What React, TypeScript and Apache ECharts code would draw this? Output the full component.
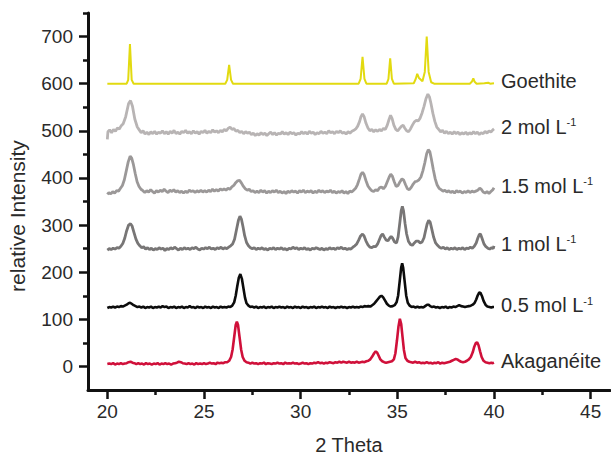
import React, { useEffect, useRef } from "react";
import * as echarts from "echarts";

const FONT = "'Liberation Sans', Arial, Helvetica, sans-serif";

// Tick positions
const xMajorTicks = [20, 25, 30, 35, 40, 45];
const xMinorTicks = [22.5, 27.5, 32.5, 37.5, 42.5];
const yMajorTicks = [0, 100, 200, 300, 400, 500, 600, 700];
const yMinorTicks = [50, 150, 250, 350, 450, 550, 650, 750];

// Series labels
const seriesNames = ["Goethite", "2 mol L", "1.5 mol L", "1 mol L", "0.5 mol L", "Akaganéite"];
const seriesSup = ["", "-1", "-1", "-1", "-1", ""];
const seriesColors = ["#e2da10", "#b8b4b4", "#9b9898", "#787676", "#0c0c0c", "#d0103a"];

// [2θ, intensity]
const goethite = [
  [20, 600], [21.0, 600], [21.08, 608], [21.17, 684], [21.26, 608], [21.36, 600],
  [26.1, 600], [26.2, 608], [26.3, 640], [26.4, 608], [26.5, 600],
  [33.0, 600], [33.1, 610], [33.2, 657], [33.3, 610], [33.4, 600],
  [34.45, 600], [34.54, 610], [34.63, 654], [34.72, 610], [34.82, 600],
  [35.85, 601], [35.95, 610], [36.03, 621], [36.12, 612], [36.3, 605],
  [36.42, 625], [36.52, 700], [36.62, 625], [36.75, 603], [36.9, 600],
  [38.75, 600], [38.85, 604], [38.93, 611], [39.0, 604], [39.1, 600],
  [39.5, 601], [39.7, 602], [39.8, 600], [40, 601],
];

const mol2 = [
  [20.0, 482], [20.03, 498], [20.12, 502], [20.22, 496], [20.32, 503], [20.42, 499], [20.52, 506],
  [20.62, 504], [20.72, 511], [20.82, 515], [20.95, 530], [21.1, 558], [21.2, 564], [21.3, 552],
  [21.42, 525], [21.55, 508], [21.65, 502], [21.75, 496], [21.85, 500], [21.95, 493], [22.05, 497],
  [22.15, 492], [22.25, 498], [22.35, 494], [22.45, 499], [22.55, 493], [22.65, 497], [22.75, 495],
  [22.85, 500], [22.95, 494], [23.05, 498], [23.15, 493], [23.25, 499], [23.35, 495], [23.45, 501],
  [23.55, 494], [23.65, 497], [23.75, 493], [23.85, 499], [23.95, 496], [24.05, 501], [24.15, 495],
  [24.25, 498], [24.35, 494], [24.45, 500], [24.55, 495], [24.65, 498], [24.75, 493], [24.85, 499],
  [24.95, 496], [25.05, 501], [25.15, 495], [25.25, 499], [25.35, 496], [25.45, 502], [25.55, 497],
  [25.65, 500], [25.75, 496], [25.85, 501], [25.95, 498], [26.05, 503], [26.15, 500], [26.25, 505],
  [26.35, 508], [26.45, 503], [26.55, 505], [26.65, 499], [26.75, 501], [26.85, 496], [26.95, 499],
  [27.05, 494], [27.15, 498], [27.25, 495], [27.35, 497], [27.45, 492], [27.55, 495], [27.65, 490],
  [27.75, 494], [27.85, 491], [27.95, 496], [28.05, 492], [28.15, 495], [28.25, 490], [28.35, 494],
  [28.45, 497], [28.55, 492], [28.65, 496], [28.75, 491], [28.85, 495], [28.95, 493], [29.05, 498],
  [29.15, 493], [29.25, 496], [29.35, 492], [29.45, 497], [29.55, 494], [29.65, 496], [29.75, 491],
  [29.85, 495], [29.95, 493], [30.05, 498], [30.15, 494], [30.25, 497], [30.35, 493], [30.45, 499],
  [30.55, 495], [30.65, 497], [30.75, 492], [30.85, 496], [30.95, 494], [31.05, 499], [31.15, 495],
  [31.25, 497], [31.35, 494], [31.45, 500], [31.55, 496], [31.65, 498], [31.75, 494], [31.85, 499],
  [31.95, 496], [32.05, 500], [32.15, 495], [32.25, 497], [32.35, 493], [32.45, 498], [32.55, 495],
  [32.65, 499], [32.75, 501], [32.85, 504], [32.95, 510], [33.05, 520], [33.12, 530], [33.2, 536],
  [33.28, 530], [33.38, 516], [33.48, 506], [33.58, 500], [33.68, 503], [33.78, 498], [33.88, 502],
  [33.98, 499], [34.08, 503], [34.18, 500], [34.28, 505], [34.38, 503], [34.48, 512], [34.57, 524],
  [34.65, 533], [34.73, 526], [34.82, 512], [34.92, 503], [35.02, 500], [35.12, 505], [35.22, 510],
  [35.3, 512], [35.38, 506], [35.48, 500], [35.58, 498], [35.68, 504], [35.78, 512], [35.88, 519],
  [35.98, 522], [36.08, 521], [36.18, 527], [36.28, 538], [36.38, 552], [36.48, 568], [36.58, 578],
  [36.66, 572], [36.74, 558], [36.84, 537], [36.94, 520], [37.04, 508], [37.14, 503], [37.24, 498],
  [37.34, 501], [37.44, 495], [37.54, 499], [37.64, 494], [37.74, 497], [37.84, 493], [37.94, 498],
  [38.04, 494], [38.14, 497], [38.24, 492], [38.34, 496], [38.44, 493], [38.54, 497], [38.64, 492],
  [38.74, 496], [38.84, 493], [38.94, 498], [39.04, 494], [39.14, 497], [39.24, 492], [39.34, 496],
  [39.44, 494], [39.54, 499], [39.64, 495], [39.74, 500], [39.84, 497], [39.94, 502], [40.0, 504],
];

const mol15 = [
  [20.0, 365], [20.08, 369], [20.18, 366], [20.28, 371], [20.38, 368], [20.48, 373], [20.58, 372],
  [20.68, 378], [20.78, 384], [20.88, 396], [20.98, 415], [21.08, 434], [21.18, 446], [21.26, 442],
  [21.34, 430], [21.44, 410], [21.54, 392], [21.64, 382], [21.74, 376], [21.84, 373], [21.94, 369],
  [22.04, 373], [22.14, 370], [22.24, 375], [22.34, 371], [22.44, 368], [22.54, 373], [22.64, 370],
  [22.74, 374], [22.84, 371], [22.94, 376], [23.04, 372], [23.14, 369], [23.24, 374], [23.34, 371],
  [23.44, 375], [23.54, 370], [23.64, 373], [23.74, 369], [23.84, 372], [23.94, 368], [24.04, 372],
  [24.14, 369], [24.24, 374], [24.34, 371], [24.44, 373], [24.54, 369], [24.64, 373], [24.74, 370],
  [24.84, 374], [24.94, 370], [25.04, 373], [25.14, 370], [25.24, 374], [25.34, 371], [25.44, 376],
  [25.54, 372], [25.64, 375], [25.74, 372], [25.84, 377], [25.94, 374], [26.04, 377], [26.14, 374],
  [26.24, 378], [26.34, 376], [26.44, 381], [26.54, 384], [26.64, 390], [26.74, 394], [26.84, 395],
  [26.94, 389], [27.04, 382], [27.14, 377], [27.24, 374], [27.34, 376], [27.44, 371], [27.54, 373],
  [27.64, 369], [27.74, 372], [27.84, 369], [27.94, 374], [28.04, 370], [28.14, 373], [28.24, 368],
  [28.34, 372], [28.44, 369], [28.54, 373], [28.64, 370], [28.74, 374], [28.84, 369], [28.94, 372],
  [29.04, 368], [29.14, 371], [29.24, 367], [29.34, 372], [29.44, 369], [29.54, 373], [29.64, 370],
  [29.74, 372], [29.84, 368], [29.94, 373], [30.04, 370], [30.14, 374], [30.24, 369], [30.34, 372],
  [30.44, 370], [30.54, 373], [30.64, 368], [30.74, 372], [30.84, 369], [30.94, 374], [31.04, 370],
  [31.14, 373], [31.24, 369], [31.34, 372], [31.44, 370], [31.54, 374], [31.64, 369], [31.74, 372],
  [31.84, 368], [31.94, 371], [32.04, 369], [32.14, 373], [32.24, 368], [32.34, 371], [32.44, 367],
  [32.54, 372], [32.64, 370], [32.74, 374], [32.84, 378], [32.94, 386], [33.04, 398], [33.12, 408],
  [33.2, 412], [33.28, 407], [33.38, 394], [33.48, 383], [33.58, 377], [33.68, 373], [33.78, 371],
  [33.88, 375], [33.98, 373], [34.08, 379], [34.18, 381], [34.28, 377], [34.38, 382], [34.48, 392],
  [34.58, 402], [34.66, 408], [34.74, 404], [34.84, 392], [34.94, 382], [35.04, 384], [35.14, 392],
  [35.24, 398], [35.32, 396], [35.42, 386], [35.52, 377], [35.62, 375], [35.72, 380], [35.82, 387],
  [35.92, 392], [36.02, 393], [36.12, 396], [36.22, 402], [36.32, 415], [36.42, 432], [36.52, 452],
  [36.6, 460], [36.68, 456], [36.76, 440], [36.86, 418], [36.96, 398], [37.06, 385], [37.16, 378],
  [37.26, 375], [37.36, 372], [37.46, 374], [37.56, 370], [37.66, 373], [37.76, 369], [37.86, 372],
  [37.96, 368], [38.06, 373], [38.16, 370], [38.26, 372], [38.36, 368], [38.46, 371], [38.56, 369],
  [38.66, 373], [38.76, 369], [38.86, 372], [38.96, 370], [39.06, 372], [39.16, 374], [39.26, 378],
  [39.34, 376], [39.44, 370], [39.54, 368], [39.64, 371], [39.74, 367], [39.84, 371], [39.94, 375],
  [40.0, 379],
];

const mol1 = [
  [20.0, 247], [20.1, 250], [20.2, 248], [20.3, 251], [20.4, 249], [20.5, 252], [20.6, 251],
  [20.7, 255], [20.8, 261], [20.9, 272], [21.0, 288], [21.1, 300], [21.2, 303], [21.28, 298],
  [21.38, 284], [21.48, 270], [21.58, 261], [21.68, 256], [21.78, 252], [21.88, 254], [21.98, 249],
  [22.08, 252], [22.18, 248], [22.28, 251], [22.38, 247], [22.48, 250], [22.58, 248], [22.68, 252],
  [22.78, 249], [22.88, 251], [22.98, 246], [23.08, 250], [23.18, 248], [23.28, 252], [23.38, 249],
  [23.48, 253], [23.58, 250], [23.68, 247], [23.78, 251], [23.88, 248], [23.98, 252], [24.08, 249],
  [24.18, 251], [24.28, 248], [24.38, 252], [24.48, 250], [24.58, 253], [24.68, 249], [24.78, 247],
  [24.88, 251], [24.98, 249], [25.08, 252], [25.18, 250], [25.28, 253], [25.38, 249], [25.48, 251],
  [25.58, 248], [25.68, 252], [25.78, 250], [25.88, 253], [25.98, 249], [26.08, 252], [26.18, 250],
  [26.28, 253], [26.38, 256], [26.48, 260], [26.58, 270], [26.68, 290], [26.78, 310], [26.86, 319],
  [26.94, 312], [27.02, 296], [27.1, 278], [27.2, 263], [27.3, 256], [27.4, 252], [27.5, 250],
  [27.6, 252], [27.7, 248], [27.8, 251], [27.9, 249], [28.0, 252], [28.1, 248], [28.2, 250],
  [28.3, 247], [28.4, 251], [28.5, 249], [28.6, 252], [28.7, 248], [28.8, 251], [28.9, 249],
  [29.0, 252], [29.1, 248], [29.2, 250], [29.3, 247], [29.4, 251], [29.5, 249], [29.6, 253],
  [29.7, 250], [29.8, 252], [29.9, 248], [30.0, 251], [30.1, 249], [30.2, 252], [30.3, 248],
  [30.4, 250], [30.5, 247], [30.6, 251], [30.7, 249], [30.8, 252], [30.9, 250], [31.0, 248],
  [31.1, 251], [31.2, 247], [31.3, 250], [31.4, 248], [31.5, 252], [31.6, 249], [31.7, 251],
  [31.8, 248], [31.9, 252], [32.0, 250], [32.1, 253], [32.2, 249], [32.3, 251], [32.4, 248],
  [32.5, 250], [32.6, 249], [32.7, 253], [32.8, 256], [32.9, 260], [33.0, 268], [33.1, 277],
  [33.2, 281], [33.28, 277], [33.38, 266], [33.48, 258], [33.58, 253], [33.68, 252], [33.78, 255],
  [33.88, 254], [33.98, 260], [34.08, 270], [34.16, 278], [34.24, 281], [34.32, 275], [34.42, 268],
  [34.52, 267], [34.6, 272], [34.68, 276], [34.76, 272], [34.86, 264], [34.96, 262], [35.04, 275],
  [35.12, 302], [35.2, 330], [35.26, 340], [35.32, 330], [35.4, 303], [35.48, 281], [35.58, 265],
  [35.68, 259], [35.78, 257], [35.88, 262], [35.98, 266], [36.08, 266], [36.18, 262], [36.28, 264],
  [36.38, 273], [36.46, 288], [36.54, 302], [36.62, 310], [36.7, 306], [36.78, 292], [36.88, 274],
  [36.98, 262], [37.08, 257], [37.18, 253], [37.28, 251], [37.38, 253], [37.48, 249], [37.58, 252],
  [37.68, 248], [37.78, 251], [37.88, 249], [37.98, 252], [38.08, 248], [38.18, 251], [38.28, 249],
  [38.38, 252], [38.48, 248], [38.58, 251], [38.68, 250], [38.78, 253], [38.88, 251], [38.98, 255],
  [39.08, 262], [39.16, 272], [39.24, 280], [39.3, 281], [39.38, 272], [39.48, 260], [39.58, 254],
  [39.68, 251], [39.78, 249], [39.88, 252], [39.96, 250], [40.0, 256],
];

const mol05 = [
  [20.0, 124], [20.1, 126], [20.2, 125], [20.3, 127], [20.4, 125], [20.5, 127], [20.6, 126],
  [20.7, 128], [20.8, 127], [20.9, 129], [21.0, 131], [21.1, 134], [21.18, 135], [21.26, 133],
  [21.36, 130], [21.46, 128], [21.56, 126], [21.66, 127], [21.76, 125], [21.86, 127], [21.96, 124],
  [22.06, 126], [22.16, 125], [22.26, 127], [22.36, 124], [22.46, 126], [22.56, 125], [22.66, 127],
  [22.76, 125], [22.86, 128], [22.96, 126], [23.06, 127], [23.16, 124], [23.26, 126], [23.36, 125],
  [23.46, 127], [23.56, 124], [23.66, 126], [23.76, 125], [23.86, 127], [23.96, 124], [24.06, 126],
  [24.16, 125], [24.26, 128], [24.36, 125], [24.46, 126], [24.56, 124], [24.66, 127], [24.76, 125],
  [24.86, 126], [24.96, 124], [25.06, 127], [25.16, 125], [25.26, 126], [25.36, 124], [25.46, 127],
  [25.56, 125], [25.66, 126], [25.76, 124], [25.86, 127], [25.96, 125], [26.06, 126], [26.16, 125],
  [26.26, 127], [26.36, 126], [26.46, 129], [26.56, 136], [26.64, 150], [26.72, 170], [26.8, 188],
  [26.88, 196], [26.96, 186], [27.04, 166], [27.12, 146], [27.2, 134], [27.3, 129], [27.4, 126],
  [27.5, 127], [27.6, 125], [27.7, 127], [27.8, 124], [27.9, 126], [28.0, 125], [28.1, 127],
  [28.2, 124], [28.3, 126], [28.4, 125], [28.5, 127], [28.6, 124], [28.7, 126], [28.8, 125],
  [28.9, 127], [29.0, 125], [29.1, 126], [29.2, 124], [29.3, 127], [29.4, 125], [29.5, 126],
  [29.6, 124], [29.7, 127], [29.8, 125], [29.9, 126], [30.0, 124], [30.1, 127], [30.2, 125],
  [30.3, 126], [30.4, 124], [30.5, 126], [30.6, 125], [30.7, 127], [30.8, 124], [30.9, 126],
  [31.0, 125], [31.1, 127], [31.2, 125], [31.3, 126], [31.4, 124], [31.5, 127], [31.6, 125],
  [31.7, 126], [31.8, 124], [31.9, 126], [32.0, 125], [32.1, 127], [32.2, 125], [32.3, 126],
  [32.4, 124], [32.5, 126], [32.6, 125], [32.7, 127], [32.8, 125], [32.9, 126], [33.0, 125],
  [33.1, 127], [33.2, 126], [33.3, 128], [33.4, 127], [33.5, 128], [33.6, 127], [33.7, 130],
  [33.8, 133], [33.9, 138], [34.0, 143], [34.1, 148], [34.18, 150], [34.26, 147], [34.36, 140],
  [34.46, 133], [34.56, 129], [34.66, 127], [34.76, 128], [34.86, 130], [34.96, 136], [35.04, 150],
  [35.12, 180], [35.2, 210], [35.25, 219], [35.3, 210], [35.38, 180], [35.46, 150], [35.54, 135],
  [35.64, 129], [35.74, 126], [35.84, 127], [35.94, 125], [36.04, 127], [36.14, 125], [36.24, 126],
  [36.34, 125], [36.44, 128], [36.54, 131], [36.62, 131], [36.7, 128], [36.8, 126], [36.9, 127],
  [37.0, 125], [37.1, 126], [37.2, 124], [37.3, 126], [37.4, 125], [37.5, 127], [37.6, 124],
  [37.7, 126], [37.8, 125], [37.9, 127], [38.0, 126], [38.1, 128], [38.2, 130], [38.3, 128],
  [38.4, 127], [38.5, 126], [38.6, 127], [38.7, 128], [38.8, 129], [38.9, 131], [39.0, 135],
  [39.08, 142], [39.16, 151], [39.24, 157], [39.3, 156], [39.38, 149], [39.46, 139], [39.56, 131],
  [39.66, 127], [39.76, 126], [39.86, 125], [39.94, 126], [40.0, 126],
];

const akaganeite = [
  [20.0, 5], [20.1, 6], [20.2, 5], [20.3, 7], [20.4, 4], [20.5, 6], [20.6, 5], [20.7, 7],
  [20.8, 5], [20.9, 6], [21.0, 7], [21.1, 9], [21.2, 10], [21.3, 8], [21.4, 7], [21.5, 5],
  [21.6, 7], [21.7, 5], [21.8, 6], [21.9, 4], [22.0, 7], [22.1, 5], [22.2, 6], [22.3, 4],
  [22.4, 6], [22.5, 5], [22.6, 7], [22.7, 4], [22.8, 6], [22.9, 5], [23.0, 7], [23.1, 5],
  [23.2, 6], [23.3, 4], [23.4, 6], [23.5, 7], [23.6, 8], [23.7, 10], [23.8, 9], [23.9, 7],
  [24.0, 6], [24.1, 5], [24.2, 7], [24.3, 5], [24.4, 6], [24.5, 4], [24.6, 7], [24.7, 5],
  [24.8, 6], [24.9, 5], [25.0, 7], [25.1, 5], [25.2, 6], [25.3, 8], [25.4, 6], [25.5, 7],
  [25.6, 5], [25.7, 8], [25.8, 7], [25.9, 8], [26.0, 7], [26.1, 9], [26.2, 9], [26.3, 12],
  [26.4, 20], [26.48, 36], [26.56, 62], [26.64, 88], [26.7, 95], [26.76, 88], [26.84, 62],
  [26.92, 36], [27.0, 20], [27.1, 12], [27.2, 9], [27.3, 8], [27.4, 6], [27.5, 8], [27.6, 6],
  [27.7, 7], [27.8, 5], [27.9, 7], [28.0, 6], [28.1, 8], [28.2, 5], [28.3, 7], [28.4, 6],
  [28.5, 5], [28.6, 7], [28.7, 6], [28.8, 8], [28.9, 6], [29.0, 7], [29.1, 5], [29.2, 8],
  [29.3, 6], [29.4, 7], [29.5, 6], [29.6, 8], [29.7, 6], [29.8, 7], [29.9, 5], [30.0, 6],
  [30.1, 8], [30.2, 6], [30.3, 7], [30.4, 5], [30.5, 7], [30.6, 6], [30.7, 8], [30.8, 7],
  [30.9, 9], [31.0, 7], [31.1, 8], [31.2, 6], [31.3, 8], [31.4, 7], [31.5, 9], [31.6, 8],
  [31.7, 7], [31.8, 9], [31.9, 8], [32.0, 10], [32.1, 8], [32.2, 10], [32.3, 9], [32.4, 8],
  [32.5, 10], [32.6, 8], [32.7, 9], [32.8, 8], [32.9, 10], [33.0, 8], [33.1, 9], [33.2, 10],
  [33.3, 9], [33.4, 11], [33.5, 12], [33.6, 15], [33.7, 21], [33.8, 28], [33.88, 32], [33.96, 29],
  [34.04, 22], [34.12, 15], [34.22, 11], [34.32, 9], [34.42, 8], [34.52, 9], [34.62, 10],
  [34.72, 11], [34.82, 15], [34.9, 28], [34.98, 55], [35.06, 85], [35.13, 101], [35.2, 90],
  [35.27, 62], [35.34, 35], [35.42, 18], [35.52, 12], [35.62, 10], [35.72, 9], [35.82, 8],
  [35.92, 10], [36.02, 8], [36.12, 9], [36.22, 7], [36.32, 8], [36.42, 7], [36.52, 9], [36.62, 7],
  [36.72, 8], [36.82, 6], [36.92, 8], [37.02, 7], [37.12, 9], [37.22, 6], [37.32, 8], [37.42, 7],
  [37.52, 8], [37.62, 9], [37.72, 10], [37.82, 12], [37.92, 14], [38.02, 16], [38.1, 15],
  [38.2, 12], [38.3, 10], [38.4, 9], [38.5, 10], [38.6, 12], [38.7, 15], [38.8, 20], [38.9, 30],
  [38.98, 42], [39.06, 50], [39.13, 51], [39.2, 45], [39.28, 32], [39.36, 20], [39.46, 12],
  [39.56, 9], [39.66, 8], [39.76, 7], [39.86, 8], [39.94, 7], [40.0, 8],
];

const seriesData = [goethite, mol2, mol15, mol1, mol05, akaganeite];
const seriesWidths = [2, 2.8, 2.8, 2.8, 2.6, 2.6];

export default function App() {
  const ref = useRef<HTMLDivElement>(null);

  useEffect(() => {
    if (!ref.current) return;
    const chart = echarts.init(ref.current, undefined, { renderer: "svg" });
    const axisColor = "#111";
    const labelColor = "#2a2a2a";

    const series = seriesData.map((data, i) => ({
      type: "line",
      name: seriesNames[i],
      data,
      xAxisIndex: 0,
      yAxisIndex: 0,
      showSymbol: false,
      symbol: "none",
      smooth: false,
      lineStyle: { color: seriesColors[i], width: seriesWidths[i] },
      itemStyle: { color: seriesColors[i] },
      endLabel: {
        show: true,
        distance: 7,
        offset: [0, -2],
        formatter: () =>
          seriesSup[i] ? `{a|${seriesNames[i]}}{s|${seriesSup[i]}}` : `{a|${seriesNames[i]}}`,
        rich: {
          a: { fontSize: 20, fontFamily: FONT, color: labelColor },
          s: { fontSize: 11, fontFamily: FONT, color: labelColor, verticalAlign: "top", padding: [0, 0, 9, 0] },
        },
      },
    }));

    chart.setOption({
      animation: false,
      backgroundColor: "#ffffff",
      grid: { left: 88, right: 1, top: 13, bottom: 62, containLabel: false },
      xAxis: [
        {
          type: "value",
          min: 19,
          max: 46,
          position: "bottom",
          name: "2 Theta",
          nameLocation: "middle",
          nameGap: 45,
          nameTextStyle: { fontSize: 20, fontFamily: FONT, color: labelColor },
          axisLine: { show: true, onZero: false, lineStyle: { color: axisColor, width: 3 } },
          axisTick: { show: true, inside: false, length: 9, customValues: xMajorTicks, lineStyle: { color: axisColor, width: 2.5 } },
          axisLabel: { show: true, customValues: xMajorTicks, margin: 12, fontSize: 19, fontFamily: FONT, color: labelColor },
          splitLine: { show: false },
        },
        {
          type: "value",
          min: 19,
          max: 46,
          position: "bottom",
          axisLine: { show: false, onZero: false },
          axisTick: { show: true, inside: false, length: 5, customValues: xMinorTicks, lineStyle: { color: axisColor, width: 2.5 } },
          axisLabel: { show: false },
          splitLine: { show: false },
        },
      ],
      yAxis: [
        {
          type: "value",
          min: -50,
          max: 750,
          position: "left",
          axisLine: { show: true, onZero: false, lineStyle: { color: axisColor, width: 3 } },
          axisTick: { show: true, inside: false, length: 9, customValues: yMajorTicks, lineStyle: { color: axisColor, width: 2.5 } },
          axisLabel: { show: true, customValues: yMajorTicks, margin: 15, fontSize: 19, fontFamily: FONT, color: labelColor },
          splitLine: { show: false },
        },
        {
          type: "value",
          min: -50,
          max: 750,
          position: "left",
          axisLine: { show: false, onZero: false },
          axisTick: { show: true, inside: false, length: 5, customValues: yMinorTicks, lineStyle: { color: axisColor, width: 2.5 } },
          axisLabel: { show: false },
          splitLine: { show: false },
        },
      ],
      graphic: [
        {
          type: "text",
          x: 17,
          y: 216,
          rotation: Math.PI / 2,
          style: {
            text: "relative Intensity",
            fontSize: 21,
            fontFamily: FONT,
            fill: labelColor,
            align: "center",
            verticalAlign: "middle",
            textAlign: "center",
            textVerticalAlign: "middle",
          },
        },
      ],
      series,
    });

    return () => {
      chart.dispose();
    };
  }, []);

  return (
    <div
      ref={ref}
      style={{ position: "fixed", left: 0, top: 0, width: 611, height: 460, background: "#fff" }}
    />
  );
}
